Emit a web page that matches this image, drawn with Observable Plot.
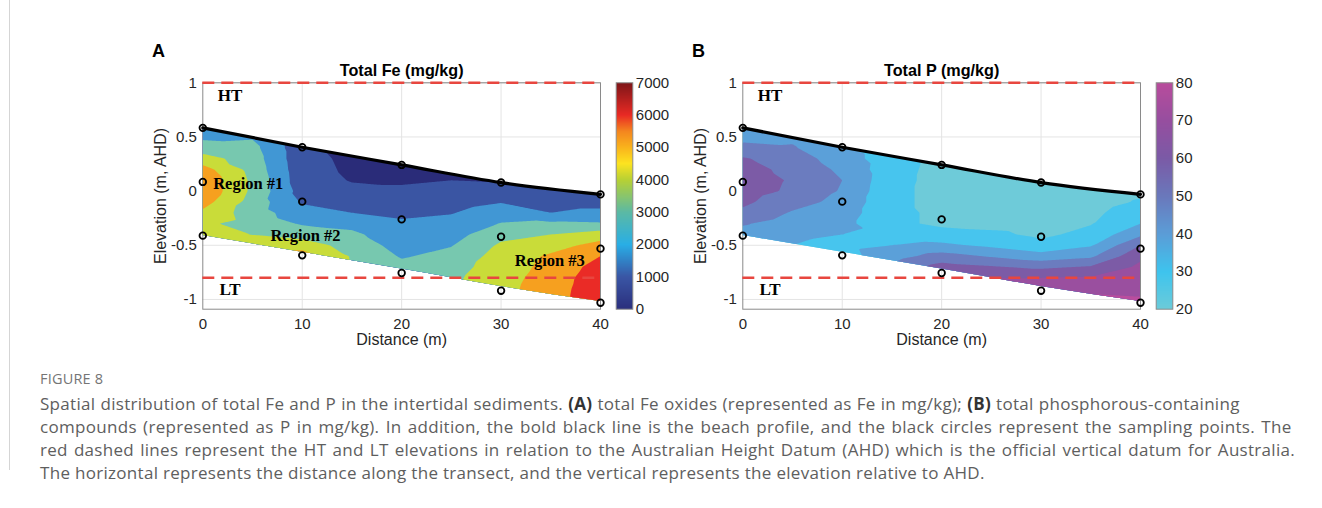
<!DOCTYPE html>
<html>
<head>
<meta charset="utf-8">
<script src="https://cdn.jsdelivr.net/npm/d3@7"></script>
<script src="https://cdn.jsdelivr.net/npm/@observablehq/plot@0.6"></script>
<style>
  html, body { margin: 0; padding: 0; background: #fff; }
  body { width: 1322px; height: 508px; position: relative; overflow: hidden; }
  .abs { position: absolute; }
  .letter { position: absolute; font: bold 18px "Liberation Sans", Arial, sans-serif; color: #000; }
  .fig { position: absolute; left: 40px; top: 369px; font: 14.5px "Open Sans", sans-serif; color: #757575; letter-spacing: 0.2px; }
  .cap { position: absolute; left: 40px; font: 17px/23px "Open Sans", sans-serif; color: #5e5e5e; white-space: nowrap; letter-spacing: 0.3px; }
  .cap b { color: #333; font-weight: 700; }
  .vline { position: absolute; left: 9px; top: 0; width: 1px; height: 470px; background: #d5d5d5; }
</style>
</head>
<body>
<div class="vline"></div>
<div class="letter" style="left:152px; top:41px;">A</div>
<div class="letter" style="left:692px; top:41px;">B</div>
<div id="panelA" class="abs" style="left:140px; top:50px;"></div>
<div id="barA" class="abs" style="left:600px; top:50px;"></div>
<div id="panelB" class="abs" style="left:680px; top:50px;"></div>
<div id="barB" class="abs" style="left:1140px; top:50px;"></div>
<div class="fig">FIGURE 8</div>
<div class="cap" style="top:392px; word-spacing:0.36px;">Spatial distribution of total Fe and P in the intertidal sediments. <b>(A)</b> total Fe oxides (represented as Fe in mg/kg); <b>(B)</b> total phosphorous-containing</div>
<div class="cap" style="top:415px; word-spacing:1.6px;">compounds (represented as P in mg/kg). In addition, the bold black line is the beach profile, and the black circles represent the sampling points. The</div>
<div class="cap" style="top:438px; word-spacing:1.4px;">red dashed lines represent the HT and LT elevations in relation to the Australian Height Datum (AHD) which is the official vertical datum for Australia.</div>
<div class="cap" style="top:461px;">The horizontal represents the distance along the transect, and the vertical represents the elevation relative to AHD.</div>

<script>
// ---------- data ----------
const distances = [0, 10, 20, 30, 40];
const profileElev = [0.584, 0.405, 0.242, 0.079, -0.03];   // beach profile (top sampling points)
const midElev = [0.085, -0.097, -0.261, -0.421, -0.531];    // middle sampling points
const deepElev = [-0.411, -0.593, -0.756, -0.919, -1.03];   // deepest sampling points
const lowerEdgeElev = [-0.41, -0.565, -0.72, -0.88, -1.02]; // lower edge of the mapped section

const tideElev = [1, -0.8];
const tideNames = ["HT", "LT"];
const tideLabelDist = [2.75, 2.75];
const tideLabelElev = [0.883, -0.904];

const regionNames = ["Region #1", "Region #2", "Region #3"];
const regionDist = [4.57, 10.33, 34.9];
const regionElev = [0.072, -0.416, -0.64];

const xTicks = [0, 10, 20, 30, 40];
const yTicks = [-1, -0.5, 0, 0.5, 1];

// value field: one row per distance, one value per elevation
const gridDist = [0, 5, 10, 15, 20, 25, 30, 35, 40];
const gridElev = [0.6, 0.5, 0.4, 0.3, 0.2, 0.1, 0.0, -0.1, -0.2, -0.3, -0.4, -0.5, -0.6, -0.7, -0.8, -0.9, -1.0, -1.1];

const feGrid = [
  [2500, 2800, 3500, 4400, 5400, 5800, 5800, 5400, 4800, 4200, 4250, 4300, 4300, 4300, 4300, 4300, 4300, 4300],
  [2700, 2900, 3300, 3500, 3650, 3800, 3800, 3600, 3500, 3600, 3980, 4400, 4500, 4500, 4500, 4500, 4500, 4500],
  [1300, 1300, 1300, 1300, 1350, 1400, 1600, 1900, 2400, 2900, 3600, 4500, 5600, 5600, 5600, 5600, 5600, 5600],
  [700, 700, 700, 800, 850, 950, 1200, 1500, 2000, 2700, 3200, 3600, 3900, 3950, 3950, 3950, 3950, 3950],
  [500, 500, 500, 500, 600, 850, 1200, 1500, 1800, 2150, 2400, 2600, 2900, 3300, 3500, 3500, 3500, 3500],
  [700, 700, 700, 700, 700, 1000, 1300, 1600, 1950, 2300, 2600, 2950, 3300, 3600, 3800, 3900, 3900, 3900],
  [900, 900, 900, 900, 900, 950, 1200, 1950, 2500, 3050, 3700, 4150, 4400, 4500, 4600, 4700, 4700, 4700],
  [1000, 1000, 1000, 1000, 1000, 1000, 1300, 1700, 2000, 3200, 4000, 4600, 5150, 5300, 5450, 5500, 5550, 5550],
  [1000, 1000, 1000, 1000, 1000, 1000, 1300, 1700, 2200, 3100, 4500, 5350, 6000, 6400, 6600, 6700, 6700, 6700]
];

const pGrid = [
  [44, 47, 53, 61, 64, 65, 64, 62, 58, 51, 46, 45, 45, 45, 45, 45, 45, 45],
  [46, 48, 51, 55, 57, 59, 58.5, 54, 49, 45, 42, 40, 39, 39, 39, 39, 39, 39],
  [40, 40, 41, 45, 48, 50, 49, 47, 45, 43, 40, 37, 36, 36, 36, 36, 36, 36],
  [34, 34, 34, 34, 33.5, 33, 32.5, 32.5, 32.5, 32.5, 36, 40, 46, 52, 52, 52, 52, 52],
  [27, 27, 27, 27, 27, 27, 27, 27, 28, 28, 34, 42, 54, 64, 67, 67, 67, 67],
  [26, 26, 26, 26, 26, 26, 26, 26, 26, 27, 32, 38, 49, 61, 70, 72, 72, 72],
  [25, 25, 25, 25, 25, 25, 25, 25, 25, 26, 28, 33, 44, 58, 70, 76, 78, 78],
  [25, 25, 25, 25, 25, 25, 25, 26, 28, 29.5, 33, 39, 48, 61, 71, 78, 82, 82],
  [27, 27, 27, 27, 27, 27, 28, 31, 35, 40, 48, 60, 68, 72, 75, 77, 81, 83]
];

const feLevels = [0, 1000, 2000, 3000, 4000, 5000, 6000];
const feBandColors = ["#2a2c79", "#3a55a3", "#4197d4", "#77c8af", "#c9dc39", "#f6a01f", "#ea2b26"];
const feBarStops = [0, 1000, 2000, 3000, 4000, 4500, 5000, 5500, 6000, 7000];
const feBarColors = ["#2b2f7d", "#3a56a5", "#29aee6", "#5bb9a4", "#b8d134", "#fde420", "#f9b31c", "#f4861f", "#e92a24", "#7e1518"];
const feBarTicks = [0, 1000, 2000, 3000, 4000, 5000, 6000, 7000];

const pLevels = [20, 30, 40, 50, 60, 70, 80];
const pBandColors = ["#6ecbd9", "#47c5ee", "#5ba0d9", "#6b7cbf", "#7c5ba6", "#9a4f9f", "#ba4d9e"];
const pBarStops = [20, 30, 40, 50, 60, 70, 80];
const pBarColors = ["#6ccbd9", "#3ec4ee", "#5b9dd7", "#6a78bb", "#7b5aa6", "#974e9f", "#b94c9c"];
const pBarTicks = [20, 30, 40, 50, 60, 70, 80];

// ---------- tables built from the arrays ----------
const profileRows = distances.map((x, i) => ({x, y: profileElev[i]}));
const sectionRows = distances.map((x, i) => ({x, hi: profileElev[i], lo: lowerEdgeElev[i]}));
const sampleRows = distances.flatMap((x, i) => [profileElev[i], midElev[i], deepElev[i]].map(y => ({x, y})));
const tideLabelRows = tideNames.map((t, i) => ({t, x: tideLabelDist[i], y: tideLabelElev[i]}));
const regionRows = regionNames.map((t, i) => ({t, x: regionDist[i], y: regionElev[i]}));
const cellsOf = grid => gridDist.flatMap((x, i) => gridElev.map((y, j) => ({x, y, v: grid[i][j]})));

const sans = "'Liberation Sans', Arial, Helvetica, sans-serif";
const serif = "'Liberation Serif', 'Times New Roman', serif";
const fmt = d => String(d);

function clipContour(svg, id) {
  const ns = "http://www.w3.org/2000/svg";
  const areaG = svg.querySelector('g[aria-label="area"]');
  const areaPath = areaG.querySelector("path");
  const defs = document.createElementNS(ns, "defs");
  const cp = document.createElementNS(ns, "clipPath");
  cp.setAttribute("id", id);
  const p = document.createElementNS(ns, "path");
  p.setAttribute("d", areaPath.getAttribute("d"));
  const t = [areaG.getAttribute("transform"), areaPath.getAttribute("transform")].filter(Boolean).join(" ");
  if (t) p.setAttribute("transform", t);
  cp.appendChild(p);
  defs.appendChild(cp);
  svg.insertBefore(defs, svg.firstChild);
  const contourG = svg.querySelector('g[aria-label="contour"]');
  const wrap = document.createElementNS(ns, "g");
  wrap.setAttribute("clip-path", `url(#${id})`);
  contourG.parentNode.insertBefore(wrap, contourG);
  wrap.appendChild(contourG);
}

function panel({grid, levels, bandColors, title, regions, clipId}) {
  const svg = Plot.plot({
    width: 480, height: 300,
    marginLeft: 62.3, marginRight: 20, marginTop: 32.3, marginBottom: 41.3,
    style: {fontFamily: sans, fontSize: "15px", color: "#262626", background: "transparent", overflow: "visible"},
    x: {domain: [0, 40]},
    y: {domain: [-1.09, 1]},
    color: {type: "threshold", domain: levels.slice(1), range: bandColors},
    marks: [
      Plot.gridX(xTicks.slice(1, -1), {stroke: "#e4e4e4", strokeOpacity: 1}),
      Plot.gridY(yTicks, {stroke: "#e4e4e4", strokeOpacity: 1}),
      Plot.frame({stroke: "#8a8a8a"}),
      Plot.contour(cellsOf(grid), {x: "x", y: "y", fill: "v", thresholds: levels, interpolate: "barycentric", pixelSize: 1}),
      Plot.areaY(sectionRows, {x: "x", y1: "lo", y2: "hi", curve: "monotone-x", fill: "none"}),
      Plot.ruleY(tideElev, {stroke: "#e8463f", strokeWidth: 2.6, strokeDasharray: "12,7"}),
      Plot.line(profileRows, {x: "x", y: "y", stroke: "#000", strokeWidth: 3.2, curve: "monotone-x"}),
      Plot.dot(sampleRows, {x: "x", y: "y", r: 3.3, stroke: "#000", strokeWidth: 1.8, fill: "none"}),
      Plot.text(tideLabelRows, {x: "x", y: "y", text: "t", fontFamily: serif, fontWeight: "bold", fontSize: 17, fill: "#000"}),
      ...(regions ? [Plot.text(regionRows, {x: "x", y: "y", text: "t", fontFamily: serif, fontWeight: "bold", fontSize: 16.5, fill: "#000"})] : []),
      Plot.axisX(xTicks, {tickSize: 0, tickPadding: 9, label: null, tickFormat: fmt, fontSize: 15}),
      Plot.axisY(yTicks, {tickSize: 0, tickPadding: 6, label: null, tickFormat: fmt, fontSize: 15}),
      Plot.text([title], {text: d => d, frameAnchor: "top", dy: -7, lineAnchor: "bottom", fontWeight: "bold", fontSize: 16.2, fill: "#000"}),
      Plot.text(["Distance (m)"], {text: d => d, frameAnchor: "bottom", dy: 36, fontSize: 16, fill: "#262626"}),
      Plot.text(["Elevation (m, AHD)"], {text: d => d, frameAnchor: "left", textAnchor: "middle", dx: -42, rotate: -90, fontSize: 16, fill: "#262626"})
    ]
  });
  clipContour(svg, clipId);
  return svg;
}

function colorbar({stops, colors, ticks}) {
  return Plot.plot({
    width: 80, height: 300,
    marginLeft: 15.7, marginRight: 47.7, marginTop: 32.3, marginBottom: 41.3,
    style: {fontFamily: sans, fontSize: "15px", color: "#262626", background: "transparent", overflow: "visible"},
    x: {domain: [0, 1], axis: null},
    y: {domain: [stops[0], stops[stops.length - 1]]},
    color: {type: "linear", domain: stops, range: colors},
    marks: [
      Plot.raster({x1: 0, x2: 1, y1: stops[0], y2: stops[stops.length - 1], fill: (x, y) => y, pixelSize: 1}),
      Plot.frame({stroke: "#8a8a8a"}),
      Plot.axisY(ticks, {anchor: "right", tickSize: 0, tickPadding: 3, label: null, tickFormat: fmt, fontSize: 15})
    ]
  });
}

document.getElementById("panelA").append(panel({grid: feGrid, levels: feLevels, bandColors: feBandColors, title: "Total Fe (mg/kg)", regions: true, clipId: "clipFe"}));
document.getElementById("barA").append(colorbar({stops: feBarStops, colors: feBarColors, ticks: feBarTicks}));
document.getElementById("panelB").append(panel({grid: pGrid, levels: pLevels, bandColors: pBandColors, title: "Total P (mg/kg)", regions: false, clipId: "clipP"}));
document.getElementById("barB").append(colorbar({stops: pBarStops, colors: pBarColors, ticks: pBarTicks}));
</script>
</body>
</html>
